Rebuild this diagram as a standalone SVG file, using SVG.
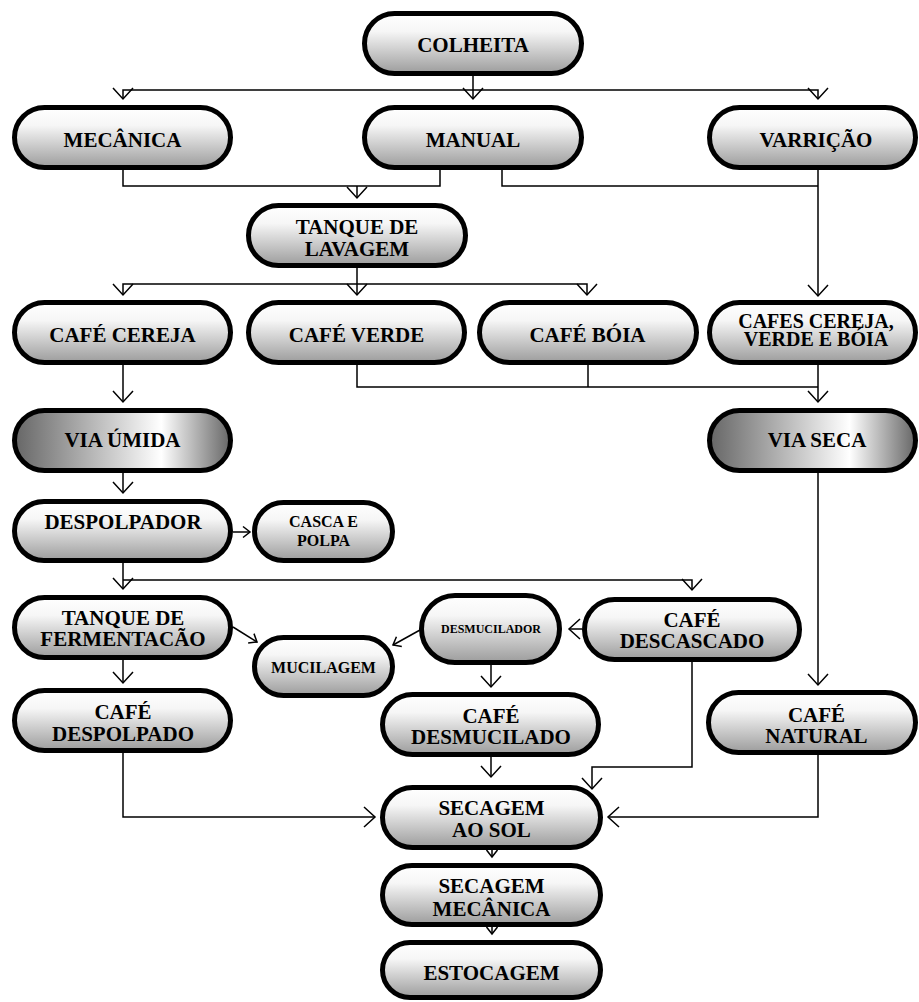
<svg xmlns="http://www.w3.org/2000/svg" width="919" height="1002" viewBox="0 0 919 1002">
<style>
.n{stroke:#000;stroke-width:5;fill:url(#g)}
.v{stroke:#000;stroke-width:5;fill:url(#gv)}
text{font-family:"Liberation Serif","Times New Roman",serif;font-weight:bold;font-size:21px;text-anchor:middle;fill:#000}
.s{font-size:16px}
.xs{font-size:12px}
.m{font-size:20px}
.c path{fill:none;stroke:#000;stroke-width:1.5}
.a{marker-end:url(#arr)}
.b{marker-end:url(#arrS)}
</style>
<defs>
<linearGradient id="g" x1="0" y1="0" x2="0" y2="1">
<stop offset="0" stop-color="#ffffff"/>
<stop offset="0.3" stop-color="#f6f6f6"/>
<stop offset="1" stop-color="#9c9c9c"/>
</linearGradient>
<linearGradient id="gv" x1="0" y1="0" x2="1" y2="0">
<stop offset="0" stop-color="#666666"/>
<stop offset="0.68" stop-color="#ffffff"/>
<stop offset="1" stop-color="#666666"/>
</linearGradient>
<marker id="arr" markerUnits="userSpaceOnUse" markerWidth="30" markerHeight="30" viewBox="-15 -15 30 30" refX="0" refY="0" orient="auto" overflow="visible">
<path d="M-11,-10 L0,0 L-11,10" fill="none" stroke="#000" stroke-width="1.5"/>
</marker>
<marker id="arrS" markerUnits="userSpaceOnUse" markerWidth="30" markerHeight="30" viewBox="-15 -15 30 30" refX="0" refY="0" orient="auto" overflow="visible">
<path d="M-7,-5.5 L0,0 L-7,5.5" fill="none" stroke="#000" stroke-width="1.5"/>
</marker>
</defs>
<rect width="919" height="1002" fill="#fff"/>

<g id="connectors" class="c">
<path class="a" d="M473,76 V99"/>
<path class="a" d="M473,90 H123 V99"/>
<path class="a" d="M473,90 H818 V99"/>
<path d="M123,170 V186 H440 V170"/>
<path class="a" d="M357,186 V198"/>
<path d="M502,170 V186 H818"/>
<path class="a" d="M818,170 V296"/>
<path class="a" d="M357,268 V295"/>
<path class="a" d="M357,284 H123 V295"/>
<path class="a" d="M357,284 H587 V295"/>
<path class="a" d="M123,365 V402"/>
<path d="M357,365 V387 H818"/>
<path d="M588,365 V387"/>
<path class="a" d="M818,365 V402"/>
<path class="a" d="M123,473 V493"/>
<path class="b" d="M233,532 H250"/>
<path class="a" d="M123,563 V589"/>
<path class="a" d="M123,580 H692 V590"/>
<path class="b" d="M233,627 L257,642"/>
<path class="b" d="M420,630 L393,645"/>
<path class="a" d="M582,629 H569"/>
<path class="a" d="M123,660 V683"/>
<path class="a" d="M491,665 V687"/>
<path class="a" d="M818,473 V685"/>
<path class="a" d="M692,662 V767 H592 V789"/>
<path class="a" d="M491,757 V777"/>
<path class="a" d="M123,753 V817 H375"/>
<path class="a" d="M818,755 V817 H608"/>
<path class="b" d="M492,850 V857"/>
<path class="b" d="M492,927 V934"/>
</g>

<g id="colheita"><rect class="n" x="364.5" y="13.5" width="217" height="60" rx="30"/><text x="473" y="52">COLHEITA</text></g>
<g id="mecanica"><rect class="n" x="14.5" y="107.5" width="216" height="60" rx="30"/><text x="122.5" y="147">MECÂNICA</text></g>
<g id="manual"><rect class="n" x="364.5" y="107.5" width="217" height="60" rx="30"/><text x="473" y="147">MANUAL</text></g>
<g id="varricao"><rect class="n" x="709.5" y="107.5" width="206" height="60" rx="30"/><text x="816" y="147">VARRIÇÃO</text></g>
<g id="tanque-lavagem"><rect class="n" x="248.5" y="205.5" width="217" height="60" rx="30"/><text x="357" y="234">TANQUE DE</text><text x="357" y="256">LAVAGEM</text></g>
<g id="cafe-cereja"><rect class="n" x="14.5" y="302.5" width="216" height="60" rx="30"/><text x="122.5" y="342">CAFÉ CEREJA</text></g>
<g id="cafe-verde"><rect class="n" x="248.5" y="302.5" width="216" height="60" rx="30"/><text x="356.5" y="342">CAFÉ VERDE</text></g>
<g id="cafe-boia"><rect class="n" x="479.5" y="302.5" width="217" height="60" rx="30"/><text x="587.5" y="342">CAFÉ BÓIA</text></g>
<g id="cafes-todos"><rect class="n" x="709.5" y="302.5" width="206" height="60" rx="30"/><text class="m" x="816" y="328">CAFES CEREJA,</text><text class="m" x="816" y="346">VERDE E BÓIA</text></g>
<g id="via-umida"><rect class="v" x="14.5" y="410.5" width="216" height="60" rx="30"/><text x="122.5" y="447">VIA ÚMIDA</text></g>
<g id="via-seca"><rect class="v" x="709.5" y="410.5" width="206" height="60" rx="30"/><text x="817" y="447">VIA SECA</text></g>
<g id="despolpador"><rect class="n" x="14.5" y="501.5" width="216" height="59" rx="29.5"/><text x="123" y="529">DESPOLPADOR</text></g>
<g id="casca-polpa"><rect class="n" x="254.5" y="502.5" width="138" height="58" rx="29"/><text class="s" x="323.5" y="527">CASCA E</text><text class="s" x="323.5" y="546">POLPA</text></g>
<g id="tanque-fermentacao"><rect class="n" x="14.5" y="597.5" width="216" height="60" rx="30"/><text x="123" y="625">TANQUE DE</text><text x="123" y="646">FERMENTACÃO</text></g>
<g id="mucilagem"><rect class="n" x="254.5" y="637.5" width="138" height="58" rx="29"/><text class="s" x="323.5" y="673">MUCILAGEM</text></g>
<g id="desmucilador"><rect class="n" x="421.5" y="595.5" width="138" height="67" rx="33.5"/><text class="xs" x="491" y="633">DESMUCILADOR</text></g>
<g id="cafe-descascado"><rect class="n" x="584.5" y="599.5" width="215" height="60" rx="30"/><text x="692" y="627">CAFÉ</text><text x="692" y="648">DESCASCADO</text></g>
<g id="cafe-despolpado"><rect class="n" x="14.5" y="690.5" width="216" height="60" rx="30"/><text x="123" y="719">CAFÉ</text><text x="123" y="741">DESPOLPADO</text></g>
<g id="cafe-desmucilado"><rect class="n" x="382.5" y="694.5" width="216" height="60" rx="30"/><text x="491" y="723">CAFÉ</text><text x="491" y="744">DESMUCILADO</text></g>
<g id="cafe-natural"><rect class="n" x="708.5" y="692.5" width="207" height="60" rx="30"/><text x="816.5" y="722">CAFÉ</text><text x="816.5" y="743">NATURAL</text></g>
<g id="secagem-sol"><rect class="n" x="382.5" y="787.5" width="218" height="60" rx="30"/><text x="491.5" y="815">SECAGEM</text><text x="491.5" y="837">AO SOL</text></g>
<g id="secagem-mecanica"><rect class="n" x="382.5" y="865.5" width="218" height="59" rx="29.5"/><text x="491.5" y="893">SECAGEM</text><text x="491.5" y="916">MECÂNICA</text></g>
<g id="estocagem"><rect class="n" x="382.5" y="942.5" width="218" height="55" rx="27.5"/><text x="491.5" y="980">ESTOCAGEM</text></g>
</svg>
